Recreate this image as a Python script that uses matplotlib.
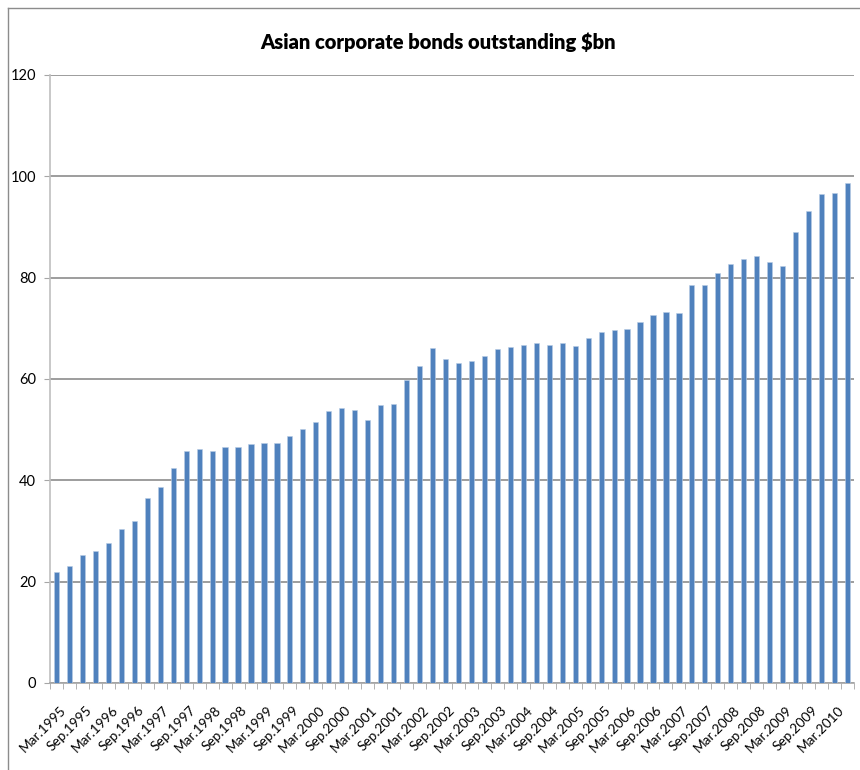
import numpy as np
import matplotlib
matplotlib.use("Agg")
import matplotlib.pyplot as plt
import matplotlib.transforms as mtransforms
from matplotlib.lines import Line2D

# Dados: títulos trimestrais, Mar.1995 até Jun.2010 ($bn)
months = ["Mar", "Jun", "Sep", "Dec"]
years = list(range(1995, 2011))
quarters = [f"{m}.{y}" for y in years for m in months][:62]

values = [
    22.0, 23.0, 25.3, 26.0, 27.6, 30.3, 32.0, 36.5, 38.7, 42.4,
    45.7, 46.1, 45.7, 46.6, 46.6, 47.2, 47.4, 47.4, 48.7, 50.1,
    51.5, 53.6, 54.3, 53.9, 52.0, 54.8, 55.0, 59.8, 62.6, 66.2,
    64.0, 63.2, 63.6, 64.5, 65.9, 66.3, 66.7, 67.1, 66.8, 67.2,
    66.6, 68.1, 69.2, 69.7, 69.9, 71.2, 72.7, 73.2, 73.1, 78.6,
    78.5, 81.0, 82.7, 83.6, 84.3, 83.1, 82.3, 89.1, 93.1, 96.6,
    96.7, 98.6,
]

yticks = [0, 20, 40, 60, 80, 100, 120]
title = "Asian corporate bonds outstanding $bn"

plt.rcParams['font.family'] = ['Lato', 'DejaVu Sans']

fig = plt.figure(figsize=(8.6, 7.7), dpi=100)
ax = fig.add_axes([50 / 860, 1 - 683 / 770, 804 / 860, 608 / 770])

x = np.arange(len(values))
ax.bar(x, values, width=0.4, color='#4F81BD', edgecolor='#B9CDE5',
       linewidth=0.4, zorder=3)

ax.set_xlim(-0.5, len(values) - 0.5)
ax.set_ylim(0, 120)

# Grelha horizontal
ax.set_yticks(yticks)
ax.set_yticklabels([str(v) for v in yticks], fontsize=10.5)
ax.yaxis.grid(True, color='#8C8C8C', linewidth=1.2, zorder=0)
ax.tick_params(axis='y', length=4, color='#A6A6A6', pad=6)

# Rótulos a cada 2 trimestres, marcas entre categorias
ax.set_xticks(x[::2])
ax.set_xticklabels(quarters[::2], rotation=45, ha='right', va='top',
                   rotation_mode='anchor', fontsize=9.8)
ax.tick_params(axis='x', which='major', length=0, pad=15)
ax.set_xticks(np.arange(-0.5, len(values)), minor=True)
ax.tick_params(axis='x', which='minor', length=4, color='#A6A6A6')
shift = mtransforms.ScaledTranslation(3 / 100, 0, fig.dpi_scale_trans)
for lab in ax.get_xticklabels():
    lab.set_transform(lab.get_transform() + shift)

for s in ['top', 'right']:
    ax.spines[s].set_visible(False)
ax.spines['left'].set_color('#BFBFBF')
ax.spines['bottom'].set_color('#A6A6A6')
ax.spines['left'].set_linewidth(1.2)
ax.spines['bottom'].set_linewidth(1.2)

fig.text(438 / 860, 1 - 42 / 770, title, ha='center', va='center',
         fontsize=14.5, fontweight='heavy')

# Moldura da área do gráfico
fig.add_artist(Line2D([8 / 860, 8 / 860], [0, 1 - 8 / 770],
                      color='#8C8C8C', linewidth=1, transform=fig.transFigure))
fig.add_artist(Line2D([8 / 860, 1], [1 - 8 / 770, 1 - 8 / 770],
                      color='#8C8C8C', linewidth=1, transform=fig.transFigure))

fig.savefig('out.png', dpi=100)
